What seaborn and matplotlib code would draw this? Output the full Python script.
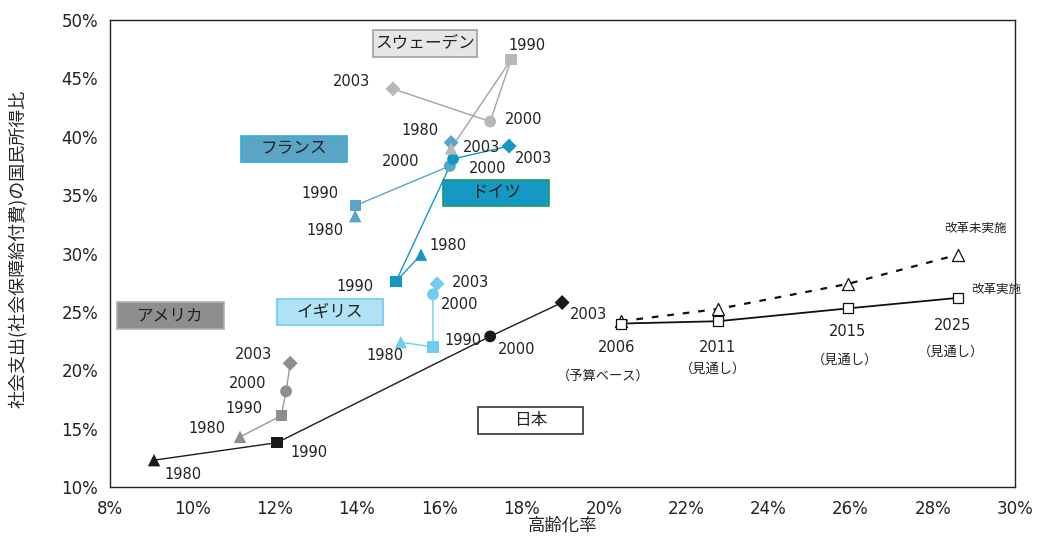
import numpy as np
import pandas as pd
import matplotlib
matplotlib.use("Agg")
import matplotlib.pyplot as plt
from matplotlib.patches import Rectangle
import seaborn as sns

# ---- data -------------------------------------------------------------
years = ["1980", "1990", "2000", "2003"]
countries = ["フランス", "ドイツ", "イギリス", "アメリカ", "日本", "スウェーデン"]

aging_sweden = [16.29, 17.75, 17.24, 14.88]
social_sweden = [39.0, 46.6, 41.3, 44.1]
aging_france = [13.96, 13.96, 16.26, 16.29]
social_france = [33.2, 34.1, 37.5, 39.5]
aging_germany = [15.56, 14.95, 16.34, 17.70]
social_germany = [29.9, 27.6, 38.1, 39.2]
aging_uk = [15.07, 15.85, 15.85, 15.95]
social_uk = [22.4, 22.0, 26.5, 27.4]
aging_usa = [11.16, 12.16, 12.28, 12.38]
social_usa = [14.3, 16.1, 18.2, 20.6]
aging_japan = [9.07, 12.06, 17.24, 18.99]
social_japan = [12.3, 13.8, 22.9, 25.8]

proj_years = ["2006", "2011", "2015", "2025"]
proj_notes = ["（予算ベース）", "（見通し）", "（見通し）", "（見通し）"]
proj_aging = [20.42, 22.78, 25.94, 28.61]
proj_reform = [24.0, 24.2, 25.3, 26.2]
proj_no_reform = [24.2, 25.25, 27.4, 29.9]

x_ticks = [8, 10, 12, 14, 16, 18, 20, 22, 24, 26, 28, 30]
y_ticks = [10, 15, 20, 25, 30, 35, 40, 45, 50]

# ---- styling ------------------------------------------------------------
palette = {
    "スウェーデン": "#b8b8b8",
    "フランス": "#57a5c7",
    "ドイツ": "#1398c3",
    "イギリス": "#6fcef0",
    "アメリカ": "#8e8e90",
    "日本": "#1a1a1a",
}
line_colors = {
    "スウェーデン": "#a3a3a3",
    "フランス": "#57a5c7",
    "ドイツ": "#1398c3",
    "イギリス": "#6fcef0",
    "アメリカ": "#9a9a9c",
    "日本": "#1a1a1a",
}
year_markers = {"1980": "^", "1990": "s", "2000": "o", "2003": "D"}
year_sizes = {"1980": 80, "1990": 66, "2000": 72, "2003": 58}

# label offsets (pixels) per country and year
label_offsets = {
    "スウェーデン": [(-31, 18), (16, 14), (33, 2), (-42, 7)],
    "フランス": [(-30, -14), (-35, 12), (-49, 4), (30, -5)],
    "ドイツ": [(27, 9), (-41, -5), (35, -10), (24, -12)],
    "イギリス": [(-16, -13), (30, 6), (27, -10), (33, 1)],
    "アメリカ": [(-33, 8), (-37, 7), (-38, 8), (-37, 9)],
    "日本": [(29, -14), (32, -10), (26, -13), (26, -12)],
}

# name boxes: (x0, x1, y0, y1, face, edge)
name_boxes = {
    "スウェーデン": (14.39, 16.92, 46.83, 49.14, "#e6e6e6", "#a0a0a0"),
    "フランス": (11.18, 13.76, 37.84, 40.06, "#5aa5c6", "#2cb0d8"),
    "ドイツ": (16.09, 18.67, 34.07, 36.30, "#1399c4", "#1f9a5c"),
    "イギリス": (12.06, 14.64, 23.88, 26.10, "#b0e1f5", "#6ccbee"),
    "アメリカ": (8.17, 10.77, 23.53, 25.85, "#8e8e90", "#b0b0b0"),
    "日本": (16.94, 19.50, 14.54, 16.85, "#ffffff", "#333333"),
}

sns.set_theme(style="white")
plt.rcParams["font.family"] = ["DejaVu Sans", "Noto Sans CJK JP"]
JP = ["Noto Sans CJK JP", "DejaVu Sans"]

series = {
    "スウェーデン": (aging_sweden, social_sweden),
    "フランス": (aging_france, social_france),
    "ドイツ": (aging_germany, social_germany),
    "イギリス": (aging_uk, social_uk),
    "アメリカ": (aging_usa, social_usa),
    "日本": (aging_japan, social_japan),
}
rows = []
for c in countries:
    xs, ys = series[c]
    for i, yr in enumerate(years):
        rows.append({"country": c, "year": yr, "order": i, "aging": xs[i], "social": ys[i]})
df = pd.DataFrame(rows)

fig = plt.figure(figsize=(10.4, 5.4), dpi=100)
ax = fig.add_axes([0.1058, 0.0981, 0.8702, 0.8649])

# connecting lines, in chronological order
for c in countries:
    sub = df[df.country == c].sort_values("order")
    sns.lineplot(data=sub, x="aging", y="social", sort=False, estimator=None,
                 color=line_colors[c], lw=1.0, ax=ax, zorder=2)

# markers: shape by year, colour by country
sns.scatterplot(data=df, x="aging", y="social", hue="country", style="year",
                palette=palette, markers=year_markers, size="year",
                sizes=year_sizes, linewidth=0, legend=False, ax=ax, zorder=3)

# year labels
for c in countries:
    xs, ys = series[c]
    for i, yr in enumerate(years):
        dx, dy = label_offsets[c][i]
        ax.annotate(yr, (xs[i], ys[i]), xytext=(dx, dy), textcoords="offset pixels",
                    ha="center", va="center", fontsize=10.5, color="#222222", zorder=5)

# Japan projections
proj = pd.DataFrame({"aging": proj_aging, "reform": proj_reform, "no_reform": proj_no_reform})
sns.lineplot(data=proj, x="aging", y="no_reform", color="#111111", lw=1.6,
             linestyle=(0, (3, 4)), estimator=None, ax=ax, zorder=2)
sns.lineplot(data=proj, x="aging", y="reform", color="#111111", lw=1.3,
             estimator=None, ax=ax, zorder=2)
ax.scatter(proj_aging, proj_no_reform, marker="^", s=75, facecolor="white",
           edgecolor="#111111", linewidth=0.9, zorder=4)
ax.scatter(proj_aging, proj_reform, marker="s", s=62, facecolor="white",
           edgecolor="#111111", linewidth=0.9, zorder=4)

proj_label_offsets = [(-4, -24), (-1, -26), (-1, -23), (-5, -28)]
proj_note_offsets = [(-18, -53), (-5, -48), (-3, -52), (-7, -54)]
for i in range(len(proj_years)):
    dx, dy = proj_label_offsets[i]
    ax.annotate(proj_years[i], (proj_aging[i], proj_reform[i]), xytext=(dx, dy),
                textcoords="offset pixels", ha="center", va="center",
                fontsize=10.5, color="#222222")
    dx, dy = proj_note_offsets[i]
    ax.annotate(proj_notes[i], (proj_aging[i], proj_reform[i]), xytext=(dx, dy),
                textcoords="offset pixels", ha="center", va="center",
                fontsize=9.5, color="#222222", family=JP)
ax.annotate("改革未実施", (proj_aging[-1], proj_no_reform[-1]), xytext=(18, 26),
            textcoords="offset pixels", ha="center", va="center", fontsize=9,
            color="#222222", family=JP)
ax.annotate("改革実施", (proj_aging[-1], proj_reform[-1]), xytext=(38, 8),
            textcoords="offset pixels", ha="center", va="center", fontsize=9,
            color="#222222", family=JP)

# country name boxes
for name, (x0, x1, y0, y1, face, edge) in name_boxes.items():
    ax.add_patch(Rectangle((x0, y0), x1 - x0, y1 - y0, facecolor=face,
                           edgecolor=edge, linewidth=1.2, zorder=1))
    ax.text((x0 + x1) / 2, (y0 + y1) / 2, name, ha="center", va="center",
            fontsize=12, color="#222222", family=JP, zorder=1.5)

# axes
ax.set_xlim(x_ticks[0], x_ticks[-1])
ax.set_ylim(y_ticks[0], y_ticks[-1])
ax.set_xticks(x_ticks)
ax.set_yticks(y_ticks)
ax.set_xticklabels([f"{t}%" for t in x_ticks], fontsize=12, color="#222222")
ax.set_yticklabels([f"{t}%" for t in y_ticks], fontsize=12, color="#222222")
ax.tick_params(direction="in", length=5, width=0.8, color="#333333")
ax.tick_params(axis="x", pad=9)
ax.tick_params(axis="y", pad=8.5)
for sp in ax.spines.values():
    sp.set_color("#222222")
    sp.set_linewidth(1.0)
ax.set_xlabel("高齢化率", fontsize=12.5, family=JP, va="center")
ax.xaxis.set_label_coords(0.5, -0.084)
ax.set_ylabel("社会支出(社会保障給付費)の国民所得比", fontsize=13, family=JP)
ax.yaxis.set_label_coords(-0.092, 0.51)

fig.savefig("out.png", dpi=100)
